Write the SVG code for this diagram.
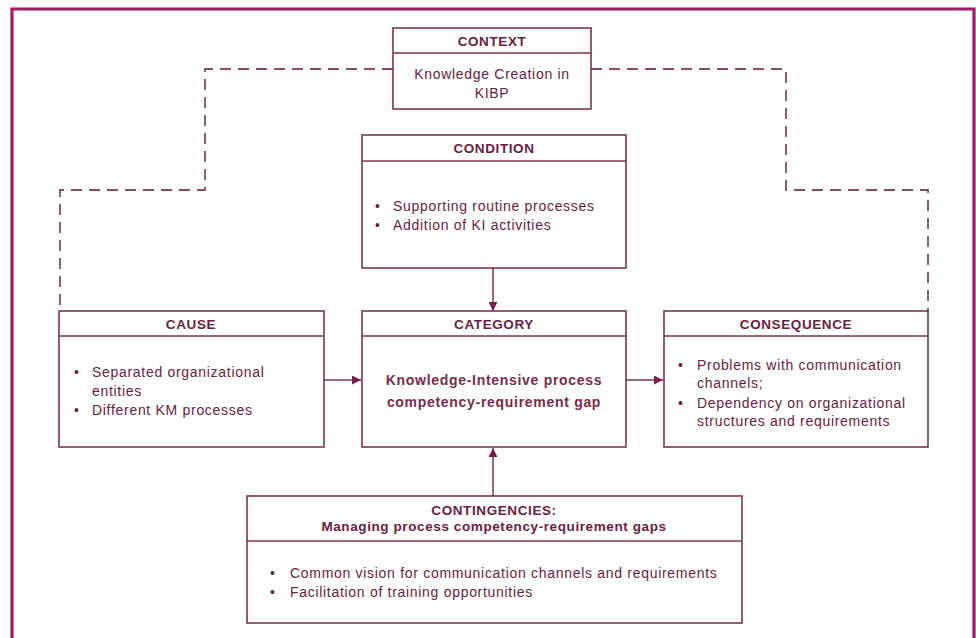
<svg xmlns="http://www.w3.org/2000/svg" width="976" height="638" viewBox="0 0 976 638">
<defs>
<style>
.box{fill:#ffffff;stroke:#7a3550;stroke-width:1.6}
.sep{stroke:#7a3550;stroke-width:1.4}
.hd{font-family:"Liberation Sans",Arial,sans-serif;font-size:13.5px;font-weight:bold;fill:#6b2040;text-anchor:middle;letter-spacing:0.6px}
.tx{font-family:"Liberation Sans",Arial,sans-serif;font-size:14px;fill:#6b2040;letter-spacing:0.7px}
.txc{font-family:"Liberation Sans",Arial,sans-serif;font-size:14px;fill:#6b2040;text-anchor:middle;letter-spacing:0.7px}
.bt{font-family:"Liberation Sans",Arial,sans-serif;font-size:14px;font-weight:bold;fill:#7a2a4c;text-anchor:middle;letter-spacing:0.7px}
.dash{fill:none;stroke:#8a4a62;stroke-width:1.8;stroke-dasharray:11 7}
.arr{fill:none;stroke:#7a3550;stroke-width:1.5;marker-end:url(#ah)}
</style>
<marker id="ah" viewBox="0 0 10 10" refX="10" refY="5" markerWidth="9" markerHeight="9" markerUnits="userSpaceOnUse" orient="auto">
<path d="M0,0 L10,5 L0,10 z" fill="#7a2048"/>
</marker>
</defs>
<rect width="976" height="638" fill="#ffffff"/>
<path d="M12,638 V9 H974 V638" fill="none" stroke="#a01a64" stroke-width="3.2"/>

<g id="connectors">
<path class="dash" d="M393,69 H205 V190 H60 V311"/>
<path class="dash" d="M591,69 H786 V190 H928 V311"/>
<line class="arr" x1="493" y1="268" x2="493" y2="311"/>
<line class="arr" x1="324" y1="380" x2="361" y2="380"/>
<line class="arr" x1="626" y1="380" x2="663" y2="380"/>
<line class="arr" x1="493" y1="496" x2="493" y2="448"/>
</g>

<g id="context">
<rect class="box" x="393" y="28" width="198" height="81"/>
<line class="sep" x1="393" y1="53" x2="591" y2="53"/>
<text class="hd" x="492" y="46">CONTEXT</text>
<text class="txc" x="492" y="79">Knowledge Creation in</text>
<text class="txc" x="492" y="98">KIBP</text>
</g>

<g id="condition">
<rect class="box" x="362" y="135" width="264" height="133"/>
<line class="sep" x1="362" y1="161" x2="626" y2="161"/>
<text class="hd" x="494" y="152.5">CONDITION</text>
<text class="tx" x="375" y="211">•</text>
<text class="tx" x="393" y="211">Supporting routine processes</text>
<text class="tx" x="375" y="230">•</text>
<text class="tx" x="393" y="230">Addition of KI activities</text>
</g>

<g id="cause">
<rect class="box" x="59" y="311" width="265" height="136"/>
<line class="sep" x1="59" y1="336" x2="324" y2="336"/>
<text class="hd" x="191" y="328.5">CAUSE</text>
<text class="tx" x="74" y="377">•</text>
<text class="tx" x="92" y="377">Separated organizational</text>
<text class="tx" x="92" y="396">entities</text>
<text class="tx" x="74" y="415">•</text>
<text class="tx" x="92" y="415">Different KM processes</text>
</g>

<g id="category">
<rect class="box" x="362" y="311" width="264" height="136"/>
<line class="sep" x1="362" y1="336" x2="626" y2="336"/>
<text class="hd" x="494" y="328.5">CATEGORY</text>
<text class="bt" x="494" y="385">Knowledge-Intensive process</text>
<text class="bt" x="494" y="407">competency-requirement gap</text>
</g>

<g id="consequence">
<rect class="box" x="664" y="311" width="264" height="136"/>
<line class="sep" x1="664" y1="336" x2="928" y2="336"/>
<text class="hd" x="796" y="328.5">CONSEQUENCE</text>
<text class="tx" x="678" y="370">•</text>
<text class="tx" x="697" y="370">Problems with communication</text>
<text class="tx" x="697" y="388">channels;</text>
<text class="tx" x="678" y="408">•</text>
<text class="tx" x="697" y="408">Dependency on organizational</text>
<text class="tx" x="697" y="426">structures and requirements</text>
</g>

<g id="contingencies">
<rect class="box" x="247" y="496" width="495" height="127"/>
<line class="sep" x1="247" y1="541" x2="742" y2="541"/>
<text class="hd" x="494" y="515">CONTINGENCIES:</text>
<text class="hd" x="494" y="531">Managing process competency-requirement gaps</text>
<text class="tx" x="270" y="578">•</text>
<text class="tx" x="290" y="578">Common vision for communication channels and requirements</text>
<text class="tx" x="270" y="597">•</text>
<text class="tx" x="290" y="597">Facilitation of training opportunities</text>
</g>
</svg>
